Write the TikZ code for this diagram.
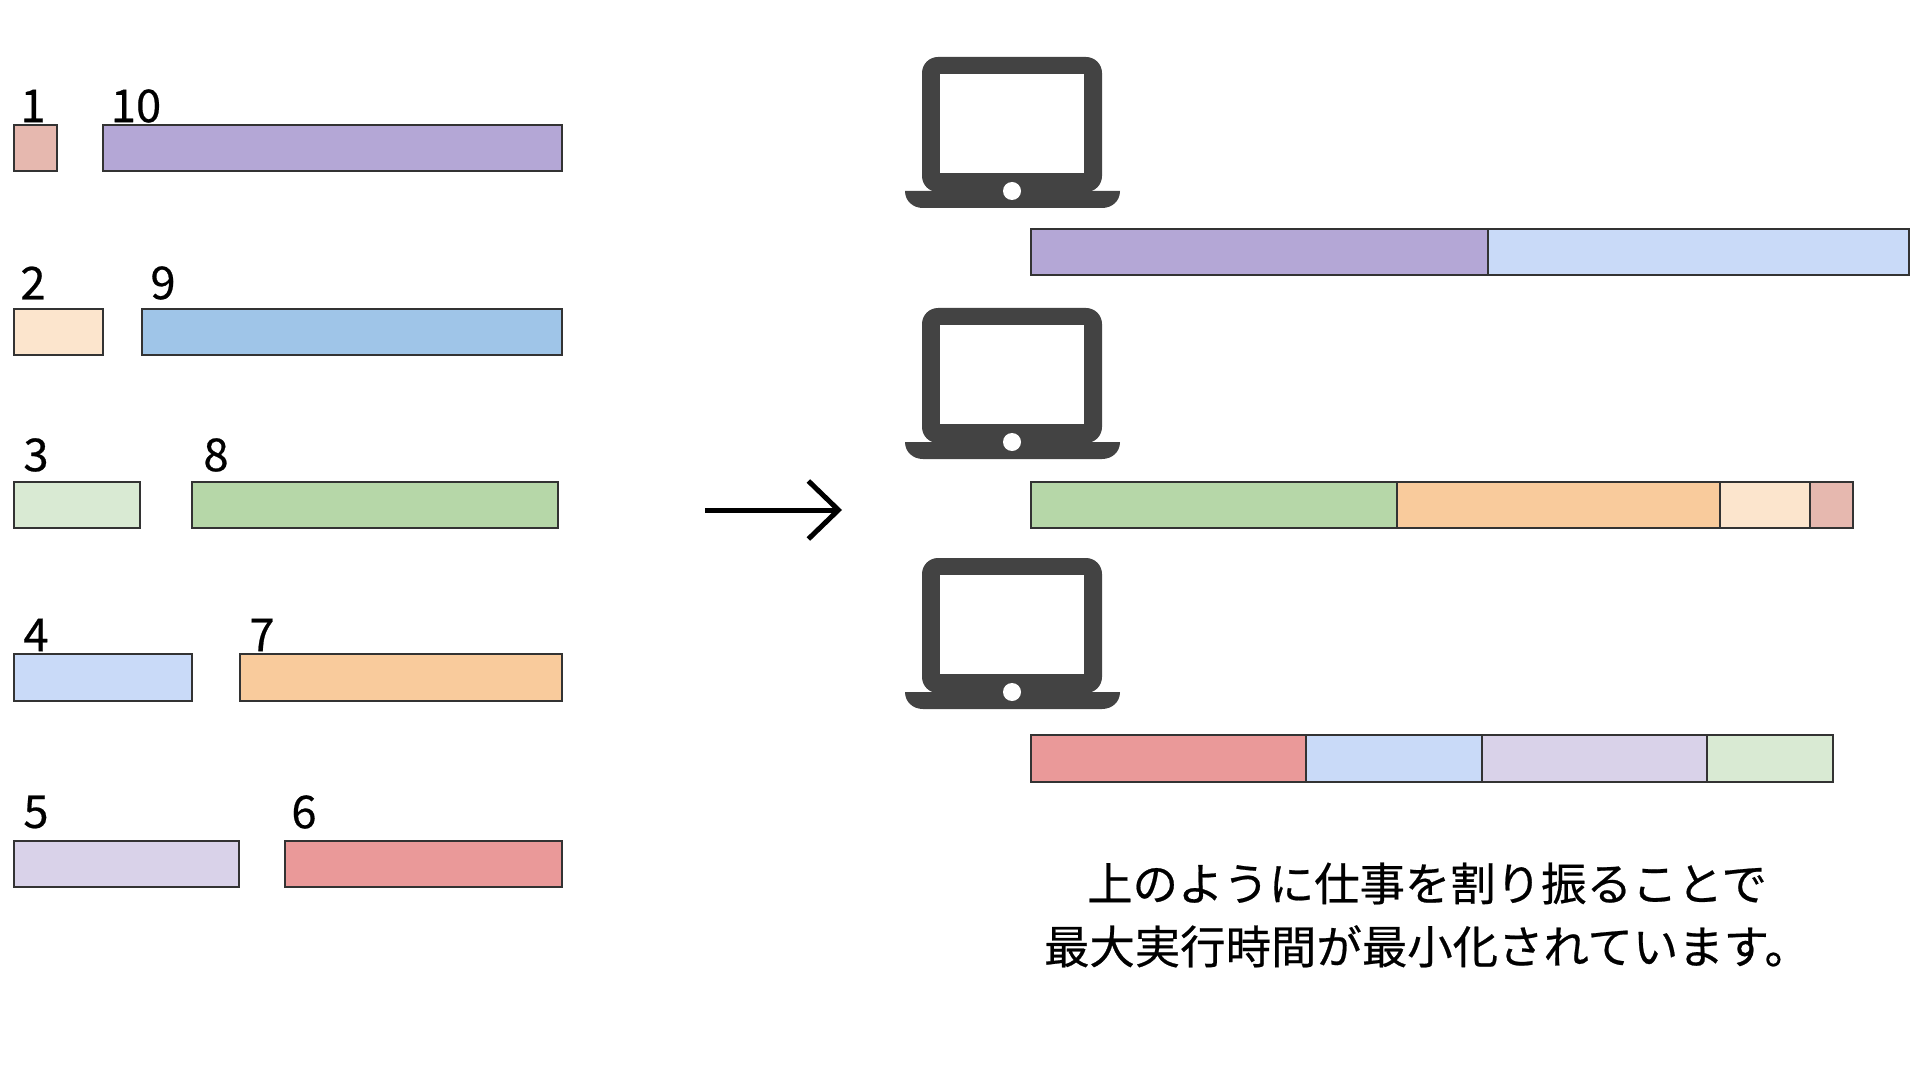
\documentclass[tikz,border=0pt]{standalone}
\usepackage{fontspec}
\setmainfont{Noto Sans CJK JP}[FakeBold=0.5]
\usepackage{xcolor}
\usetikzlibrary{arrows.meta}
\definecolor{cOne}{HTML}{E6B8AF}
\definecolor{cTen}{HTML}{B4A7D6}
\definecolor{cTwo}{HTML}{FCE5CD}
\definecolor{cNine}{HTML}{9FC5E8}
\definecolor{cThree}{HTML}{D9EAD3}
\definecolor{cEight}{HTML}{B6D7A8}
\definecolor{cFour}{HTML}{C9DAF8}
\definecolor{cSeven}{HTML}{F9CB9C}
\definecolor{cFive}{HTML}{D9D2E9}
\definecolor{cSix}{HTML}{EA9999}
\definecolor{cEdge}{HTML}{333333}
\definecolor{cLaptop}{HTML}{434343}
\tikzset{
  fx/.style={x=0.5pt, y=-0.5pt},
  j box/.style={draw=cEdge, line width=1.25pt, inner sep=0pt, outer sep=0pt, anchor=north west, minimum height=23pt},
  j num/.style={font=\fontsize{22.7}{26}\selectfont, inner sep=0pt},
  j note/.style={font=\fontsize{22.7}{31.5}\selectfont, align=center, inner sep=0pt},
  j arr/.style={-{Straight Barb[length=15pt, width=29pt]}, line width=2.5pt, black},
  m pc/.style={fill=cLaptop},
}
\begin{document}
\begin{tikzpicture}[fx]
\useasboundingbox (0,0) rectangle (1920,1080);
% jobs
\node[j box, fill=cOne, minimum width=21.5pt] (j1) at (14,125) {};
\node[j box, fill=cTen, minimum width=229.5pt] (j10) at (103,125) {};
\node[j box, fill=cTwo, minimum width=44.5pt] (j2) at (14,309) {};
\node[j box, fill=cNine, minimum width=210pt] (j9) at (142,309) {};
\node[j box, fill=cThree, minimum width=63pt] (j3) at (14,482) {};
\node[j box, fill=cEight, minimum width=183pt] (j8) at (192,482) {};
\node[j box, fill=cFour, minimum width=89pt, minimum height=23.5pt] (j4) at (14,654) {};
\node[j box, fill=cSeven, minimum width=161pt, minimum height=23.5pt] (j7) at (240,654) {};
\node[j box, fill=cFive, minimum width=112.5pt] (j5) at (14,841) {};
\node[j box, fill=cSix, minimum width=138.5pt] (j6) at (285,841) {};
\node[j num] (n1) at (33,106) {1};
\node[j num] (n10) at (136,106) {10};
\node[j num] (n2) at (33,283) {2};
\node[j num] (n9) at (163,283) {9};
\node[j num] (n3) at (36,455) {3};
\node[j num] (n8) at (216,455) {8};
\node[j num] (n4) at (36,635) {4};
\node[j num] (n7) at (262,635) {7};
\node[j num] (n5) at (36,812) {5};
\node[j num] (n6) at (304,812) {6};
% arrow
\coordinate (arr s) at (705,510);
\coordinate (arr e) at (842,510);
\draw[j arr] (arr s) -- (arr e);
% laptops
\foreach \dy in {0,251,501} {
  \begin{scope}[shift={(0,\dy)}]
    \fill[m pc, rounded corners=8pt] (922,57) rectangle (1102,192);
    \fill[m pc] (905,191) -- (1120,191) .. controls (1120,201) and (1112,208) .. (1102,208) -- (923,208) .. controls (913,208) and (905,201) .. (905,191) -- cycle;
    \fill[white] (940,74) rectangle (1084,173);
    \fill[white] (1012,191) circle (4.5pt);
  \end{scope}
}
% machines
\node[j box, fill=cTen, minimum width=228.5pt] (a1) at (1031,229) {};
\node[j box, fill=cFour, minimum width=210.5pt] (a2) at (a1.north east) {};
\node[j box, fill=cEight, minimum width=183pt] (b1) at (1031,482) {};
\node[j box, fill=cSeven, minimum width=161.5pt] (b2) at (b1.north east) {};
\node[j box, fill=cTwo, minimum width=45pt] (b3) at (b2.north east) {};
\node[j box, fill=cOne, minimum width=21.5pt] (b4) at (b3.north east) {};
\node[j box, fill=cSix, minimum width=137.5pt, minimum height=23.5pt] (c1) at (1031,735) {};
\node[j box, fill=cFour, minimum width=88pt, minimum height=23.5pt] (c2) at (c1.north east) {};
\node[j box, fill=cFive, minimum width=112.5pt, minimum height=23.5pt] (c3) at (c2.north east) {};
\node[j box, fill=cThree, minimum width=63pt, minimum height=23.5pt] (c4) at (c3.north east) {};
\node[j note] (note) at (1427,915) {上のように仕事を割り振ることで\\最大実行時間が最小化されています。};
\end{tikzpicture}
\end{document}
